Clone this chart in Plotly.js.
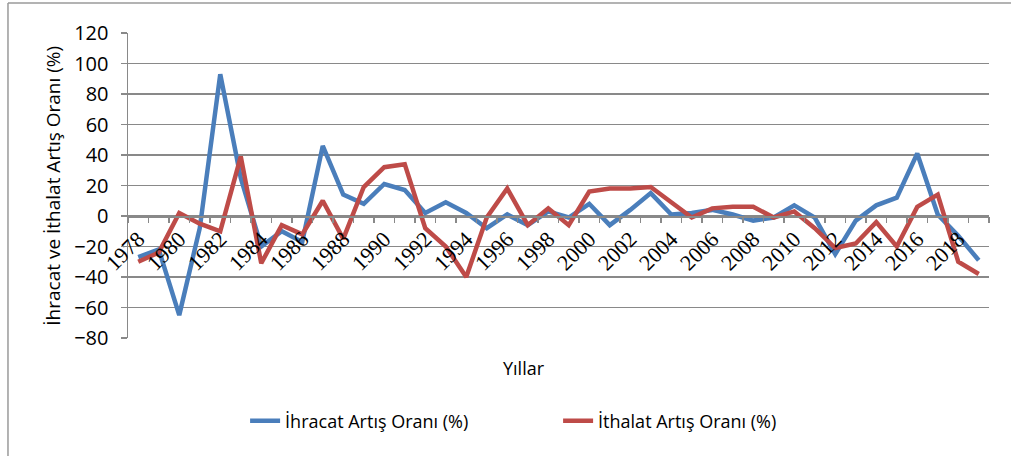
<!DOCTYPE html>
<html>
<head>
<meta charset="utf-8">
<script src="https://cdn.plot.ly/plotly-3.0.1.min.js"></script>
<style>html,body{margin:0;padding:0;background:#fff;}#chart{width:1011px;height:456px;}</style>
</head>
<body>
<div id="chart"></div>
<script>
const years = [1978,1979,1980,1981,1982,1983,1984,1985,1986,1987,1988,1989,1990,1991,1992,1993,1994,1995,1996,1997,1998,1999,2000,2001,2002,2003,2004,2005,2006,2007,2008,2009,2010,2011,2012,2013,2014,2015,2016,2017,2018,2019];
const ihracat = [-27,-22,-65,-8,93,25,-20,-10,-17,46,14,8,21,17,2,9,2,-8,1,-6,3,-1,8,-6,4,15,1,2,4,1,-3,-1,7,-1,-25,-3,7,12,41,1,-13,-29];
const ithalat = [-30,-24,2,-5,-10,39,-31,-6,-12,10,-15,19,32,34,-8,-20,-40,-1,18,-6,5,-6,16,18,18,19,9,-1,5,6,6,-1,3,-8,-21,-18,-4,-20,6,14,-30,-38];
const tickYears = [1978,1980,1982,1984,1986,1988,1990,1992,1994,1996,1998,2000,2002,2004,2006,2008,2010,2012,2014,2016,2018];
const yTicks = [-80,-60,-40,-20,0,20,40,60,80,100,120];
const seriesNames = ["İhracat Artış Oranı (%)", "İthalat Artış Oranı (%)"];
const xTitle = "Yıllar";
const yTitle = "İhracat ve İthalat Artış Oranı (%)";

const sans = "Open Sans";
const grid = "#898989";

const traces = [
  {x: years, y: ihracat, name: seriesNames[0], type: "scatter", mode: "lines",
   line: {color: "#4A7EBB", width: 4.5}},
  {x: years, y: ithalat, name: seriesNames[1], type: "scatter", mode: "lines", xaxis: "x2",
   line: {color: "#BE4B48", width: 4.5}}
];

const layout = {
  width: 1011, height: 456,
  margin: {l: 128, r: 22, t: 33, b: 118},
  paper_bgcolor: "#fff", plot_bgcolor: "#fff",
  showlegend: true,
  legend: {orientation: "h", x: 0.136, xanchor: "left", y: -0.272, yanchor: "middle",
           entrywidth: 268, entrywidthmode: "pixels",
           font: {family: sans, size: 18, color: "#000"}},
  xaxis: {
    range: [1977.5, 2019.5], anchor: "free", position: 0.4,
    tickmode: "array", tickvals: tickYears, ticktext: tickYears.map(String),
    tickangle: -45, ticks: "", showgrid: false, zeroline: false,
    showline: true, linecolor: grid, linewidth: 1.5,
    tickfont: {family: "Liberation Serif, Times New Roman, serif", size: 22, color: "#000"}
  },
  xaxis2: {
    overlaying: "x", matches: "x", anchor: "free", position: 0.4, side: "bottom",
    tickmode: "linear", tick0: 1977.5, dtick: 1, ticks: "outside", ticklen: 6,
    tickcolor: grid, tickwidth: 1.5, showticklabels: false, showgrid: false,
    zeroline: false, showline: false
  },
  yaxis: {
    range: [-80, 120], tickmode: "array", tickvals: yTicks,
    ticks: "outside", ticklen: 6, tickcolor: grid, tickwidth: 1.5,
    ticklabelstandoff: 8,
    showgrid: true, gridcolor: grid, gridwidth: 1.5, zeroline: false,
    showline: true, linecolor: grid, linewidth: 1.5,
    tickfont: {family: sans, size: 20, color: "#000"}
  },
  annotations: [
    {text: yTitle, xref: "paper", yref: "paper", x: -0.088, y: 0.5, xanchor: "center", yanchor: "middle",
     textangle: -90, showarrow: false, font: {family: sans, size: 19, color: "#000"}},
    {text: xTitle, xref: "paper", yref: "paper", x: 0.46, y: -0.098, xanchor: "center", yanchor: "middle",
     showarrow: false, font: {family: sans, size: 18, color: "#000"}}
  ],
  shapes: [
    {type: "line", xref: "paper", yref: "paper", x0: -0.1394, x1: -0.1394, y0: 1.098, y1: -0.39,
     line: {color: "#9a9a9a", width: 1.5}},
    {type: "line", xref: "paper", yref: "paper", x0: -0.1394, x1: 1.03, y0: 1.098, y1: 1.098,
     line: {color: "#9a9a9a", width: 1.5}}
  ]
};

Plotly.newPlot("chart", traces, layout, {displayModeBar: false, staticPlot: true});
</script>
</body>
</html>
